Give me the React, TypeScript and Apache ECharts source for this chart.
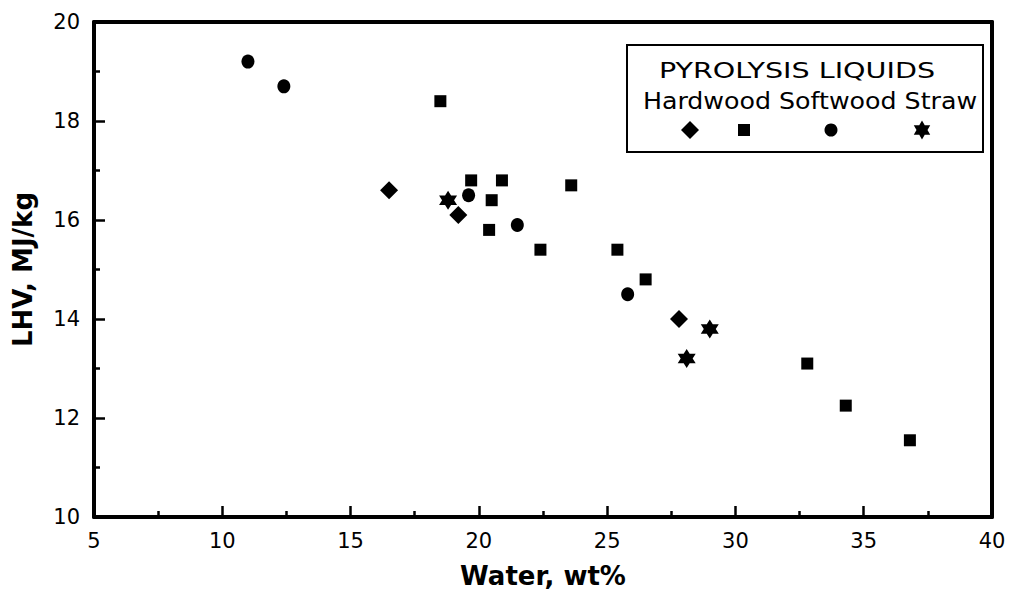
import React, { useEffect, useRef } from "react";
import * as echarts from "echarts";

const hardwood: [number, number][] = [
  [16.5, 16.6],
  [19.2, 16.1],
  [27.8, 14.0],
];
const softwoodSquares: [number, number][] = [
  [18.5, 18.4],
  [19.7, 16.8],
  [20.9, 16.8],
  [23.6, 16.7],
  [20.5, 16.4],
  [20.4, 15.8],
  [22.4, 15.4],
  [25.4, 15.4],
  [26.5, 14.8],
  [32.8, 13.1],
  [34.3, 12.25],
  [36.8, 11.55],
];
const softwoodCircles: [number, number][] = [
  [11.0, 19.2],
  [12.4, 18.7],
  [19.6, 16.5],
  [21.5, 15.9],
  [25.8, 14.5],
];
const straw: [number, number][] = [
  [18.8, 16.4],
  [29.0, 13.8],
  [28.1, 13.2],
];

const xTicks = [5, 10, 15, 20, 25, 30, 35, 40];
const yTicks = [10, 12, 14, 16, 18, 20];
const legendTitle = "PYROLYSIS LIQUIDS";
const legendLabels = "Hardwood Softwood Straw";

const STAR =
  "path://M100,0 L128.9,50 L186.6,50 L157.7,100 L186.6,150 L128.9,150 L100,200 L71.1,150 L13.4,150 L42.3,100 L13.4,50 L71.1,50 Z";

const FONT = "'DejaVu Sans', 'Liberation Sans', Arial, sans-serif";

export default function App() {
  const ref = useRef<HTMLDivElement>(null);
  useEffect(() => {
    if (!ref.current) return;
    const chart = echarts.init(ref.current, null, { renderer: "svg" });
    const black = "#000";
    const seriesDefs = [
      { name: "Hardwood", data: hardwood, symbol: "diamond", size: [18, 18] },
      { name: "Softwood", data: softwoodSquares, symbol: "rect", size: [12, 12] },
      { name: "Softwood (circle)", data: softwoodCircles, symbol: "circle", size: [13, 14] },
      { name: "Straw", data: straw, symbol: STAR, size: [18, 19] },
    ];
    const legendX = [690, 744, 831, 922];
    const legendY = 130;
    chart.setOption({
      animation: false,
      backgroundColor: "#fff",
      textStyle: { fontFamily: FONT },
      grid: { left: 94, right: 22, top: 22, bottom: 74 },
      xAxis: [
        {
          type: "value",
          min: xTicks[0],
          max: xTicks[xTicks.length - 1],
          interval: 5,
          axisLine: { show: true, lineStyle: { color: black, width: 4 } },
          axisTick: { show: true, inside: true, length: 11, lineStyle: { color: black, width: 2.5 } },
          minorTick: { show: true, splitNumber: 2, length: 6, lineStyle: { color: black, width: 2.5 } },
          splitLine: { show: false },
          axisLabel: { color: black, fontSize: 21, fontFamily: FONT, margin: 13 },
          name: "Water, wt%",
          nameLocation: "middle",
          nameGap: 46,
          nameTextStyle: { color: black, fontSize: 26, fontWeight: "bold", fontFamily: FONT },
        },
        {
          type: "value",
          position: "top",
          min: xTicks[0],
          max: xTicks[xTicks.length - 1],
          interval: 5,
          axisLine: { show: true, onZero: false, lineStyle: { color: black, width: 4 } },
          axisTick: { show: false },
          axisLabel: { show: false },
          splitLine: { show: false },
        },
      ],
      yAxis: [
        {
          type: "value",
          min: yTicks[0],
          max: yTicks[yTicks.length - 1],
          interval: 2,
          axisLine: { show: true, lineStyle: { color: black, width: 4 } },
          axisTick: { show: true, inside: true, length: 11, lineStyle: { color: black, width: 2.5 } },
          minorTick: { show: true, splitNumber: 2, length: 6, lineStyle: { color: black, width: 2.5 } },
          splitLine: { show: false },
          axisLabel: { color: black, fontSize: 21, fontFamily: FONT, margin: 14 },
          name: "LHV, MJ/kg",
          nameLocation: "middle",
          nameGap: 58,
          nameTextStyle: { color: black, fontSize: 26, fontWeight: "bold", fontFamily: FONT },
        },
        {
          type: "value",
          position: "right",
          min: yTicks[0],
          max: yTicks[yTicks.length - 1],
          interval: 2,
          axisLine: { show: true, onZero: false, lineStyle: { color: black, width: 4 } },
          axisTick: { show: false },
          axisLabel: { show: false },
          splitLine: { show: false },
        },
      ],
      legend: seriesDefs.map((s, i) => ({
        data: [s.name],
        left: legendX[i] - s.size[0] / 2,
        top: legendY - s.size[1] / 2,
        itemWidth: s.size[0],
        itemHeight: s.size[1],
        formatter: () => "",
        selectedMode: false,
        padding: 0,
        itemGap: 0,
      })),
      graphic: [
        {
          type: "rect",
          shape: { x: 627, y: 45, width: 356, height: 107 },
          style: { fill: "#fff", stroke: black, lineWidth: 2 },
          z: 0,
        },
        {
          type: "text",
          x: 797,
          y: 70,
          scaleX: 1.3,
          style: {
            text: legendTitle,
            fill: black,
            font: `22px ${FONT}`,
            align: "center",
            verticalAlign: "middle",
          },
          z: 1,
        },
        {
          type: "text",
          x: 810,
          y: 101,
          scaleX: 1.1,
          style: {
            text: legendLabels,
            fill: black,
            font: `23px ${FONT}`,
            align: "center",
            verticalAlign: "middle",
          },
          z: 1,
        },
      ],
      series: seriesDefs.map((s) => ({
        type: "scatter",
        name: s.name,
        data: s.data,
        symbol: s.symbol,
        symbolSize: s.size,
        itemStyle: { color: black, opacity: 1 },
        z: 5,
      })),
    });
    return () => chart.dispose();
  }, []);
  return (
    <div
      ref={ref}
      style={{ position: "fixed", left: 0, top: 0, width: 1014, height: 594, background: "#fff" }}
    />
  );
}
